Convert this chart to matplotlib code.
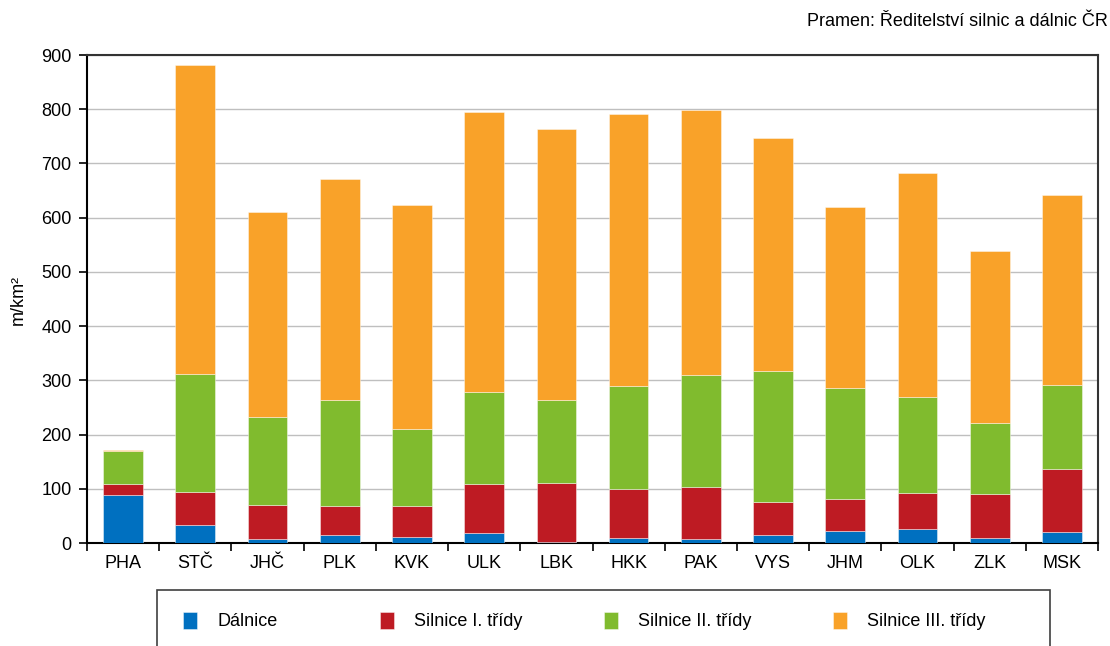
import matplotlib
matplotlib.use("Agg")
import matplotlib.pyplot as plt
import numpy as np
from matplotlib.patches import Rectangle

plt.rcParams['font.family'] = ['Liberation Sans', 'DejaVu Sans']

categories = ["PHA", "STČ", "JHČ", "PLK", "KVK", "ULK", "LBK", "HKK", "PAK", "VYS", "JHM", "OLK", "ZLK", "MSK"]
dalnice = [89, 33, 7, 14, 11, 19, 1, 9, 7, 14, 22, 26, 9, 21]
silnice_1 = [20, 61, 64, 54, 57, 90, 109, 91, 96, 62, 59, 66, 82, 115]
silnice_2 = [61, 218, 161, 196, 143, 170, 154, 190, 206, 241, 204, 177, 130, 156]
silnice_3 = [1, 570, 378, 407, 412, 515, 499, 501, 489, 430, 334, 413, 317, 349]
series_labels = ["Dálnice", "Silnice I. třídy", "Silnice II. třídy", "Silnice III. třídy"]
colors = ["#0070C0", "#BE1B23", "#80BB2E", "#F9A229"]
yticks = [0, 100, 200, 300, 400, 500, 600, 700, 800, 900]

FS = 13
W, H = 1110, 646
fig = plt.figure(figsize=(W / 100, H / 100), dpi=100)
ax = fig.add_axes([87 / W, 1 - 543 / H, (1098 - 87) / W, (543 - 55) / H])

x = np.arange(len(categories))
bottom = np.zeros(len(categories))
handles = []
for vals, col, lab in zip([dalnice, silnice_1, silnice_2, silnice_3], colors, series_labels):
    b = ax.bar(x, vals, width=0.55, bottom=bottom, color=col, edgecolor=(1, 1, 1, 0.5),
               linewidth=0.6, label=lab, zorder=3)
    handles.append(b)
    bottom += np.array(vals)

ax.set_xlim(-0.5, len(categories) - 0.5)
ax.set_ylim(0, 900)
ax.set_yticks(yticks)
ax.set_yticklabels([str(v) for v in yticks], fontsize=FS)
ax.yaxis.grid(True, color="#BFBFBF", linewidth=1, zorder=0)
ax.set_axisbelow(True)

ax.set_xticks(np.arange(-0.5, len(categories), 1.0))
ax.set_xticklabels([])
ax.set_xticks(x, minor=True)
ax.set_xticklabels(categories, minor=True, fontsize=FS)
ax.tick_params(axis='x', which='major', direction='out', length=6, width=1.2, color='black')
ax.tick_params(axis='x', which='minor', length=0, pad=9)
ax.tick_params(axis='y', direction='out', length=6, width=1.2, color='black', pad=5)

for s in ['left', 'bottom']:
    ax.spines[s].set_linewidth(1.5)
    ax.spines[s].set_color('black')
for s in ['top', 'right']:
    ax.spines[s].set_linewidth(1.5)
    ax.spines[s].set_color('#333333')

fig.text(18 / W, 1 - 300 / H, "m/km²", rotation=90, ha='center', va='center', fontsize=FS)
fig.text(1108 / W, 1 - 21 / H, "Pramen: Ředitelství silnic a dálnic ČR", ha='right', va='center', fontsize=FS)

fig.patches.append(Rectangle((157 / W, -0.05), (1050 - 157) / W, (0.05 + 1 - 590 / H),
                             transform=fig.transFigure, facecolor='white', edgecolor='#404040',
                             linewidth=1.2, zorder=1))
leg_x = [183, 380, 604, 833]
for h, lab, lx in zip(handles, series_labels, leg_x):
    fig.legend([h], [lab], loc='center left', bbox_to_anchor=(lx / W, 1 - 621 / H),
               frameon=False, fontsize=FS, handlelength=0.75, handleheight=1.1,
               handletextpad=1.15, borderpad=0, borderaxespad=0)

fig.savefig("out.png", dpi=100)
